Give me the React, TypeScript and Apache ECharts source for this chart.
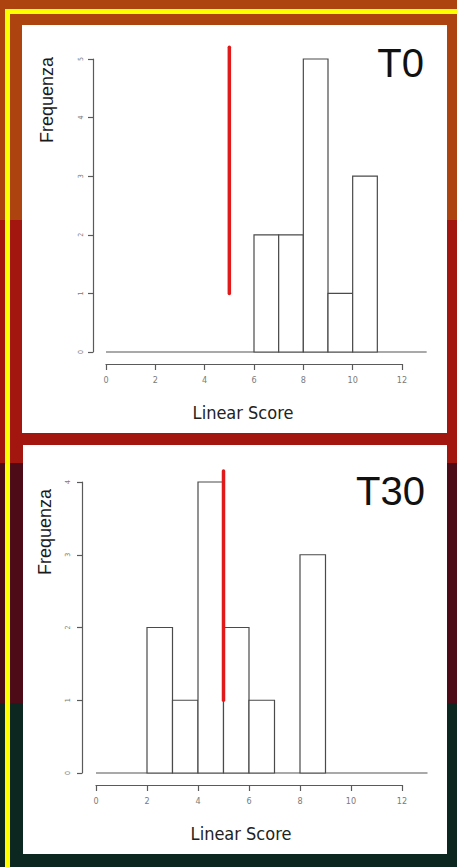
import React, { useEffect, useRef } from "react";
import * as echarts from "echarts";

// ---- data ----
const binWidth = 1;
const t0BinStarts = [6, 7, 8, 9, 10];
const t0Counts = [2, 2, 5, 1, 3];
const t30BinStarts = [2, 3, 4, 5, 6, 8];
const t30Counts = [2, 1, 4, 2, 1, 3];
const t0Marker = [[5, 1], [5, 5.2]];
const t30Marker = [[5, 1], [5, 4.15]];
const baselineRange = [[0, 13]];
const panelTitles = ["T0", "T30"];
const xTitle = "Linear Score";
const yTitle = "Frequenza";

const AXIS = "#5a5a5a";
const LABEL = "#7a7a7a";

function histData(starts: number[], counts: number[]) {
  return starts.map((s, i) => [s, s + binWidth, counts[i]]);
}

function renderBin(params: any, api: any) {
  const x0 = api.value(0);
  const x1 = api.value(1);
  const c = api.value(2);
  const p0 = api.coord([x0, c]);
  const p1 = api.coord([x1, 0]);
  return {
    type: "rect",
    shape: { x: p0[0], y: p0[1], width: p1[0] - p0[0], height: p1[1] - p0[1] },
    style: { fill: "#ffffff", stroke: "#4a4a4a", lineWidth: 1.2 },
  };
}

function renderBaseline(params: any, api: any) {
  const a = api.coord([api.value(0), 0]);
  const b = api.coord([api.value(1), 0]);
  return {
    type: "line",
    shape: { x1: a[0], y1: a[1], x2: b[0], y2: b[1] },
    style: { stroke: "#555", lineWidth: 1.2 },
  };
}

function xAxisCfg(gridIndex: number, offset: number) {
  return {
    type: "value",
    gridIndex,
    min: 0,
    max: 12,
    interval: 2,
    offset,
    axisLine: { show: true, onZero: false, lineStyle: { color: AXIS, width: 1.2 } },
    axisTick: { show: true, length: 6, lineStyle: { color: AXIS, width: 1.2 } },
    axisLabel: { fontSize: 9, color: LABEL, margin: 11, fontFamily: "DejaVu Sans Condensed" },
    splitLine: { show: false },
  };
}

function yAxisCfg(gridIndex: number, max: number, offset: number, margin: number) {
  return {
    type: "value",
    gridIndex,
    min: 0,
    max,
    interval: 1,
    offset,
    axisLine: { show: true, onZero: false, lineStyle: { color: AXIS, width: 1.2 } },
    axisTick: { show: true, length: 5, lineStyle: { color: AXIS, width: 1.2 } },
    axisLabel: { fontSize: 7, color: LABEL, margin, rotate: 90, fontFamily: "DejaVu Sans Condensed" },
    splitLine: { show: false },
  };
}

export default function App() {
  const ref = useRef<HTMLDivElement>(null);
  useEffect(() => {
    if (!ref.current) return;
    const chart = echarts.init(ref.current, null, { renderer: "svg" });
    const option: any = {
      animation: false,
      grid: [
        { left: 106, top: 59, width: 296, height: 293 },
        { left: 96, top: 482, width: 306, height: 291 },
      ],
      xAxis: [xAxisCfg(0, 12), xAxisCfg(1, 12)],
      yAxis: [yAxisCfg(0, 5, 13, 9), yAxisCfg(1, 4, 14, 11)],
      graphic: [
        { type: "rect", z: -20, shape: { x: 0, y: 0, width: 457, height: 220 }, style: { fill: "#ad440f" } },
        { type: "rect", z: -20, shape: { x: 0, y: 220, width: 457, height: 243 }, style: { fill: "#a31610" } },
        { type: "rect", z: -20, shape: { x: 0, y: 463, width: 457, height: 240 }, style: { fill: "#4c0b17" } },
        { type: "rect", z: -20, shape: { x: 0, y: 703, width: 457, height: 164 }, style: { fill: "#0c2620" } },
        { type: "rect", z: -15, shape: { x: 5, y: 9, width: 5, height: 858 }, style: { fill: "#ffff00" } },
        { type: "rect", z: -15, shape: { x: 5, y: 9, width: 452, height: 5 }, style: { fill: "#ffff00" } },
        { type: "rect", z: -10, shape: { x: 22, y: 25, width: 425, height: 408 }, style: { fill: "#ffffff" } },
        { type: "rect", z: -10, shape: { x: 23, y: 445, width: 424, height: 409 }, style: { fill: "#ffffff" } },
        { type: "text", z: 50, x: 424, y: 63, style: { text: panelTitles[0], fill: "#111", font: "40px 'Liberation Sans'", textAlign: "right", textVerticalAlign: "middle" } },
        { type: "text", z: 50, x: 425, y: 491, style: { text: panelTitles[1], fill: "#111", font: "40px 'Liberation Sans'", textAlign: "right", textVerticalAlign: "middle" } },
        { type: "text", z: 50, x: 47, y: 100, rotation: Math.PI / 2, style: { text: yTitle, fill: "#1a1a1a", font: "18px 'Liberation Sans'", textAlign: "center", textVerticalAlign: "middle" } },
        { type: "text", z: 50, x: 45, y: 532, rotation: Math.PI / 2, style: { text: yTitle, fill: "#1a1a1a", font: "18px 'Liberation Sans'", textAlign: "center", textVerticalAlign: "middle" } },
        { type: "text", z: 50, x: 243, y: 412, style: { text: xTitle, fill: "#222", font: "18px 'DejaVu Sans Condensed'", textAlign: "center", textVerticalAlign: "middle" } },
        { type: "text", z: 50, x: 241, y: 833, style: { text: xTitle, fill: "#222", font: "18px 'DejaVu Sans Condensed'", textAlign: "center", textVerticalAlign: "middle" } },
      ],
      series: [
        {
          type: "custom", xAxisIndex: 0, yAxisIndex: 0, data: baselineRange, clip: false,
          renderItem: renderBaseline, encode: { x: [0, 1] }, z: 2,
        },
        {
          type: "custom", xAxisIndex: 0, yAxisIndex: 0, data: histData(t0BinStarts, t0Counts),
          renderItem: renderBin, encode: { x: [0, 1], y: 2 }, z: 3,
        },
        {
          type: "line", xAxisIndex: 0, yAxisIndex: 0, data: t0Marker, clip: false, symbol: "none",
          lineStyle: { color: "#e01a1a", width: 3.5, cap: "round" }, z: 5,
        },
        {
          type: "custom", xAxisIndex: 1, yAxisIndex: 1, data: baselineRange, clip: false,
          renderItem: renderBaseline, encode: { x: [0, 1] }, z: 2,
        },
        {
          type: "custom", xAxisIndex: 1, yAxisIndex: 1, data: histData(t30BinStarts, t30Counts),
          renderItem: renderBin, encode: { x: [0, 1], y: 2 }, z: 3,
        },
        {
          type: "line", xAxisIndex: 1, yAxisIndex: 1, data: t30Marker, clip: false, symbol: "none",
          lineStyle: { color: "#e01a1a", width: 3.5, cap: "round" }, z: 5,
        },
      ],
    };
    chart.setOption(option);
    return () => chart.dispose();
  }, []);
  return <div ref={ref} style={{ position: "absolute", left: 0, top: 0, width: 457, height: 867 }} />;
}
